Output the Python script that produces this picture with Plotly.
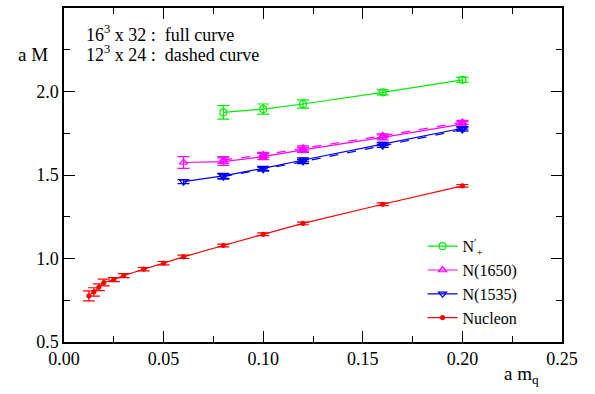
import plotly.graph_objects as go

# ---- data ----
x_np = [0.08, 0.10, 0.12, 0.16, 0.20]
y_np = [1.875, 1.895, 1.925, 1.995, 2.07]
e_np = [0.04, 0.03, 0.025, 0.015, 0.015]

x_1650 = [0.06, 0.08, 0.10, 0.12, 0.16, 0.20]
y_1650 = [1.575, 1.58, 1.61, 1.65, 1.725, 1.805]
e_1650 = [0.035, 0.022, 0.018, 0.015, 0.015, 0.015]

x_1650d = [0.08, 0.10, 0.12, 0.16, 0.20]
y_1650d = [1.59, 1.62, 1.66, 1.735, 1.815]
e_1650d = [0.02, 0.015, 0.015, 0.012, 0.012]

x_1535 = [0.06, 0.08, 0.10, 0.12, 0.16, 0.20]
y_1535 = [1.46, 1.495, 1.54, 1.59, 1.685, 1.78]
e_1535 = [0.012, 0.015, 0.012, 0.012, 0.01, 0.01]

x_1535d = [0.08, 0.10, 0.12, 0.16, 0.20]
y_1535d = [1.49, 1.535, 1.58, 1.675, 1.772]
e_1535d = [0.015, 0.012, 0.012, 0.01, 0.01]

x_nuc = [0.0125, 0.015, 0.0175, 0.02, 0.025, 0.03, 0.04, 0.05, 0.06, 0.08, 0.10, 0.12, 0.16, 0.20]
y_nuc = [0.776, 0.80, 0.828, 0.856, 0.874, 0.898, 0.936, 0.972, 1.01, 1.078, 1.145, 1.21, 1.325, 1.435]
e_nuc = [0.03, 0.025, 0.02, 0.02, 0.012, 0.012, 0.01, 0.01, 0.01, 0.008, 0.008, 0.008, 0.008, 0.008]

x_ticks = [0.0, 0.05, 0.10, 0.15, 0.20, 0.25]
y_ticks = [0.5, 1.0, 1.5, 2.0, 2.5]

GREEN = "#00ee00"
MAG = "#ff00ff"
BLUE = "#0000ee"
RED = "#ff0000"
FONT = "Liberation Serif"

fig = go.Figure()

def add(x, y, e, color, symbol, name, dash="solid", legend=True, size=7, open_=True):
    fig.add_trace(go.Scatter(
        x=x, y=y, mode="lines+markers", name=name, showlegend=legend,
        line=dict(color=color, width=1.2, dash=dash),
        marker=dict(symbol=symbol + ("-open" if open_ else ""), size=size, color=color,
                    line=dict(color=color, width=1.2)),
        error_y=dict(type="data", array=e, visible=True, color=color, thickness=1.2, width=6),
    ))

add(x_np, y_np, e_np, GREEN, "circle", "N<sup>′</sup><sub>+</sub>")
add(x_1650, y_1650, e_1650, MAG, "triangle-up", "N(1650)")
add(x_1535, y_1535, e_1535, BLUE, "triangle-down", "N(1535)")
add(x_nuc, y_nuc, e_nuc, RED, "circle", "Nucleon", size=4, open_=False)
add(x_1650d, y_1650d, e_1650d, MAG, "triangle-up", "N(1650) 12", dash="dash", legend=False)
add(x_1535d, y_1535d, e_1535d, BLUE, "triangle-down", "N(1535) 12", dash="dash", legend=False)

axis_common = dict(
    showline=True, linecolor="black", linewidth=1.5, mirror="allticks",
    ticks="inside", ticklen=11, tickwidth=1.2, tickcolor="black",
    showgrid=False, zeroline=False, automargin=False,
    tickfont=dict(family=FONT, size=18, color="black"),
)

fig.update_xaxes(range=[0, 0.25], tickvals=x_ticks, ticktext=[f"{v:.2f}" for v in x_ticks],
                 minor=dict(ticks="inside", ticklen=6, dtick=0.025, tickcolor="black", tickwidth=1.2),
                 **axis_common)
fig.update_yaxes(range=[0.5, 2.5], tickvals=y_ticks, ticktext=[f"{v:.1f}" for v in y_ticks],
                 minor=dict(ticks="inside", ticklen=6, dtick=0.25, tickcolor="black", tickwidth=1.2),
                 **axis_common)

def note(text, x, y, xanchor="center", size=19):
    fig.add_annotation(text=text, xref="paper", yref="paper", x=x, y=y,
                       xanchor=xanchor, yanchor="middle", showarrow=False,
                       font=dict(family=FONT, size=size, color="black"))

note("a M", -0.062, 0.86)
note("a m<sub>q</sub>", 0.918, -0.10)
note("16<sup>3</sup> x 32 :  full curve", 0.041, 0.925, xanchor="left", size=18)
note("12<sup>3</sup> x 24 :  dashed curve", 0.041, 0.865, xanchor="left", size=18)

fig.update_layout(
    width=595, height=394,
    margin=dict(l=64, r=33, t=8, b=52),
    paper_bgcolor="white", plot_bgcolor="white",
    font=dict(family=FONT, size=18, color="black"),
    legend=dict(x=0.72, y=0.02, xanchor="left", yanchor="bottom",
                font=dict(family=FONT, size=16, color="black"),
                bgcolor="rgba(0,0,0,0)", tracegroupgap=0, itemwidth=30),
)

fig.write_html("out.html")
